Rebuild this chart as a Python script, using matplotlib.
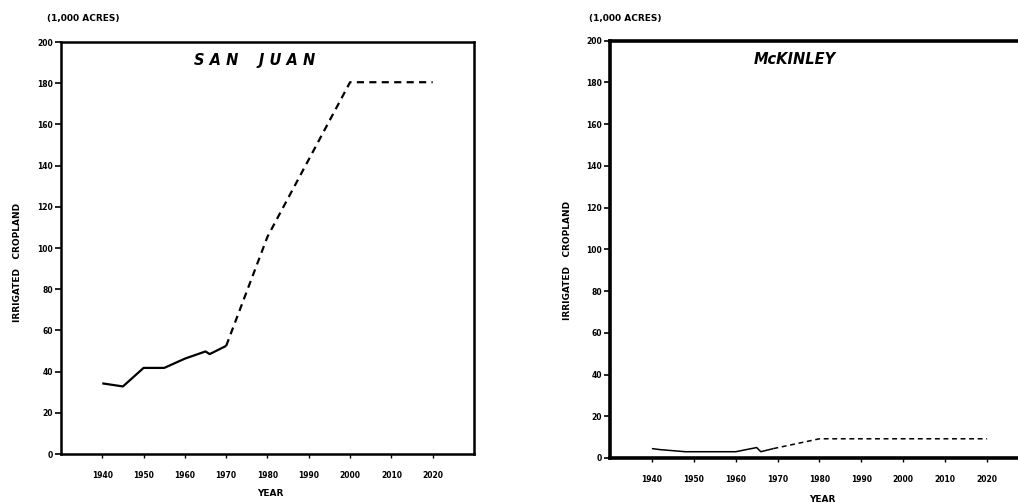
import matplotlib
matplotlib.use("Agg")
import matplotlib.pyplot as plt

# Irrigated cropland, thousands of acres
years_ticks = [1940, 1950, 1960, 1970, 1980, 1990, 2000, 2010, 2020]
acre_ticks = [0, 20, 40, 60, 80, 100, 120, 140, 160, 180, 200]

# San Juan: recorded (solid) and projected (dashed)
sj_hist_years = [1940, 1945, 1950, 1955, 1960, 1965, 1966, 1970]
sj_hist_acres = [34.3, 32.8, 41.8, 41.8, 46.3, 49.8, 48.5, 52.5]
sj_proj_years = [1970, 1980, 2000, 2020]
sj_proj_acres = [52.5, 105.5, 180.5, 180.5]

# McKinley: recorded (solid) and projected (dashed)
mk_hist_years = [1940, 1942, 1948, 1960, 1965, 1966, 1969]
mk_hist_acres = [4.5, 4.0, 3.0, 3.0, 5.0, 3.0, 4.5]
mk_proj_years = [1969, 1980, 2020]
mk_proj_acres = [4.5, 9.2, 9.2]

FONT = "DejaVu Sans"

fig = plt.figure(figsize=(10.18, 5.03), dpi=100)


def panel(rect, title, title_x, hx, hy, px, py, spine_w, line_w):
    ax = fig.add_axes(rect)
    ax.plot(hx, hy, color="black", lw=line_w, solid_capstyle="butt")
    ax.plot(px, py, color="black", lw=line_w, linestyle=(0, (3.2, 2.4)))
    ax.set_xlim(1930, 2030)
    ax.set_ylim(0, 200)
    ax.set_xticks(years_ticks)
    ax.set_yticks(acre_ticks)
    ax.set_xticklabels([str(y) for y in years_ticks], fontsize=5.5,
                       fontweight="bold", family=FONT)
    ax.set_yticklabels([str(v) for v in acre_ticks], fontsize=5.5,
                       fontweight="bold", family=FONT)
    ax.tick_params(axis="y", direction="out", length=4, width=1.2, pad=1.5)
    ax.tick_params(axis="x", direction="out", length=3, width=1.0, pad=9)
    for s in ax.spines.values():
        s.set_linewidth(spine_w)
    ax.text(title_x, 0.955, title, transform=ax.transAxes, ha="center",
            va="center", fontsize=10.5, fontweight="heavy", fontstyle="italic",
            family=FONT)
    return ax


panel([0.0599, 0.0974, 0.4057, 0.819], "S A N    J U A N", 0.47,
      sj_hist_years, sj_hist_acres, sj_proj_years, sj_proj_acres, 1.8, 1.6)
panel([0.5992, 0.0895, 0.4116, 0.8297], "McKINLEY", 0.44,
      mk_hist_years, mk_hist_acres, mk_proj_years, mk_proj_acres, 2.6, 1.1)

W, H = 1018, 503


def label(x, y, s, size=6.5, rot=0):
    fig.text(x / W, 1 - y / H, s, ha="center", va="center", rotation=rot,
             fontsize=size, fontweight="bold", family=FONT)


label(83, 18, "(1,000 ACRES)")
label(625, 18, "(1,000 ACRES)")
label(18, 262, "IRRIGATED   CROPLAND", rot=90)
label(567, 260, "IRRIGATED   CROPLAND", rot=90)
label(270, 493, "YEAR")
label(822, 499, "YEAR")

fig.savefig("out.png", dpi=100, facecolor="white")
